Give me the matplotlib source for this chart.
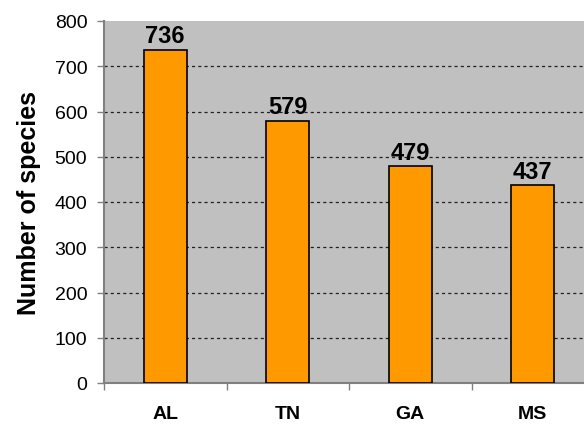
import numpy as np
import matplotlib.pyplot as plt

# Species counts per state
states = ["AL", "TN", "GA", "MS"]
species = [736, 579, 479, 437]

plt.rcParams['font.family'] = ['Liberation Sans', 'DejaVu Sans']

fig = plt.figure(figsize=(5.84, 4.27), dpi=100)
# plot area runs off the right edge of the figure
ax = fig.add_axes([104 / 584, 43 / 427, 490 / 584, 362 / 427])
ax.set_facecolor('#C0C0C0')

x = np.arange(len(states))
bars = ax.bar(x, species, width=0.35, color='#FF9900', edgecolor='black', linewidth=1.2, zorder=3)

for xi, v in zip(x, species):
    ax.text(xi, v + 6, str(v), ha='center', va='bottom', fontsize=17, fontweight='bold', zorder=4)

ax.set_xlim(-0.5, 3.5)
ax.set_ylim(0, 800)
ax.set_yticks(range(0, 801, 100))
ax.yaxis.grid(True, color='#202020', linestyle=(0, (2.5, 2.5)), linewidth=0.9, zorder=1)
ax.set_axisbelow(True)
# no gridline along the top edge
ax.get_ygridlines()[-1].set_visible(False)

# category ticks sit on the boundaries, labels at bar centres
ax.set_xticks(np.arange(-0.5, 3.6, 1.0))
ax.set_xticklabels([])
ax.set_xticks(x, minor=True)
ax.set_xticklabels(states, minor=True, fontsize=14, fontweight='bold')
ax.tick_params(axis='x', which='minor', length=0, pad=16)
ax.tick_params(axis='x', which='major', length=5, color='#808080', width=1)
ax.tick_params(axis='y', length=5, color='#808080', width=1, labelsize=14, pad=7)

for side in ['top', 'right']:
    ax.spines[side].set_visible(False)
for side in ['left', 'bottom']:
    ax.spines[side].set_color('#808080')
    ax.spines[side].set_linewidth(1.5)

ax.set_ylabel("Number of species", fontsize=18, fontweight='bold', labelpad=10)

fig.savefig("out.png", dpi=100)
